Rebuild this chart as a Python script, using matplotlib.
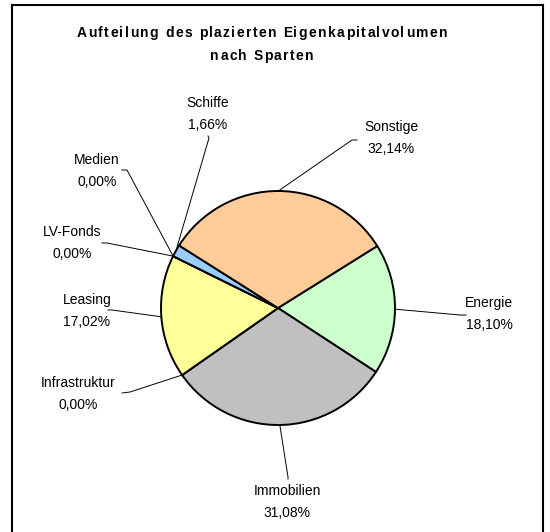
import numpy as np
import matplotlib
matplotlib.use("Agg")
import matplotlib.pyplot as plt
from matplotlib.lines import Line2D
from matplotlib.font_manager import FontProperties

plt.rcParams["font.family"] = ["Liberation Sans", "DejaVu Sans"]

# Share of placed equity volume by segment (percent), clockwise order
sparten = ["Energie", "Immobilien", "Infrastruktur", "Leasing",
           "LV-Fonds", "Medien", "Schiffe", "Sonstige"]
anteile = [18.10, 31.08, 0.00, 17.02, 0.00, 0.00, 1.66, 32.14]
farben = ["#CCFFCC", "#C0C0C0", "#9999FF", "#FFFF99",
          "#FF99CC", "#993366", "#99CCFF", "#FFCC99"]

titel_zeilen = ["Aufteilung des plazierten Eigenkapitalvolumen", "nach Sparten"]

W, H = 550, 532
fig = plt.figure(figsize=(W / 100, H / 100), dpi=100)
ax = fig.add_axes([0, 0, 1, 1])


def py(y):
    """Convert a top-down pixel row into data coordinates."""
    return H - y


cx, cy, r = 278, py(308), 117
wedges, _ = ax.pie(anteile, colors=farben, startangle=32, counterclock=False,
                   center=(cx, cy), radius=r, frame=True,
                   wedgeprops=dict(edgecolor="black", linewidth=1.4))
ax.set_xlim(0, W)
ax.set_ylim(0, H)
ax.set_aspect("equal")
ax.axis("off")

# label layout: (elbow point, end of short horizontal tick, text centre) in pixel rows
layout = {
    "Energie":       ((460, 315), (466, 315), (489, 314)),
    "Immobilien":    ((288, 477), (288, 479), (287, 502)),
    "Infrastruktur": ((130, 392), (122, 393), (78, 394)),
    "Leasing":       ((112, 310), (108, 310), (87, 311)),
    "LV-Fonds":      ((107, 243), (102, 243), (72, 243)),
    "Medien":        ((127, 170), (122, 170), (97, 171)),
    "Schiffe":       ((209, 138), (208, 136), (208, 114)),
    "Sonstige":      ((352, 140), (357, 140), (391, 138)),
}

for w, name, val in zip(wedges, sparten, anteile):
    mid = np.deg2rad((w.theta1 + w.theta2) / 2)
    ex, ey = cx + r * np.cos(mid), cy + r * np.sin(mid)
    (bx, by), (tx, ty), (lx, ly) = layout[name]
    ax.add_line(Line2D([ex, bx, tx], [ey, py(by), py(ty)],
                       color="black", linewidth=0.7))
    pct = f"{val:.2f}%".replace(".", ",")
    ax.text(lx, py(ly), f"{name}\n{pct}", ha="center", va="center",
            fontsize=10, linespacing=1.7, color="black")


def spaced_text(x_center, y, s, tracking, fp):
    """Draw a single line of text with extra letter spacing, centred on x."""
    renderer = fig.canvas.get_renderer()
    widths = [renderer.get_text_width_height_descent(c, fp, ismath=False)[0]
              for c in s]
    total = sum(widths) + tracking * (len(s) - 1)
    x = x_center - total / 2
    for c, wd in zip(s, widths):
        ax.text(x, y, c, ha="left", va="baseline", fontproperties=fp)
        x += wd + tracking


title_fp = FontProperties(family=["Liberation Sans"], weight="bold", size=10)
for i, zeile in enumerate(titel_zeilen):
    spaced_text(262, py(37 + 23 * i), zeile, 1.4, title_fp)

# chart area frame
for xs, ys in [([12, 12], [py(5), 0]), ([12, 543], [py(5), py(5)]),
               ([543, 543], [py(5), 0])]:
    ax.add_line(Line2D(xs, ys, color="black", linewidth=1.5))

fig.savefig("out.png", dpi=100, facecolor="white")
